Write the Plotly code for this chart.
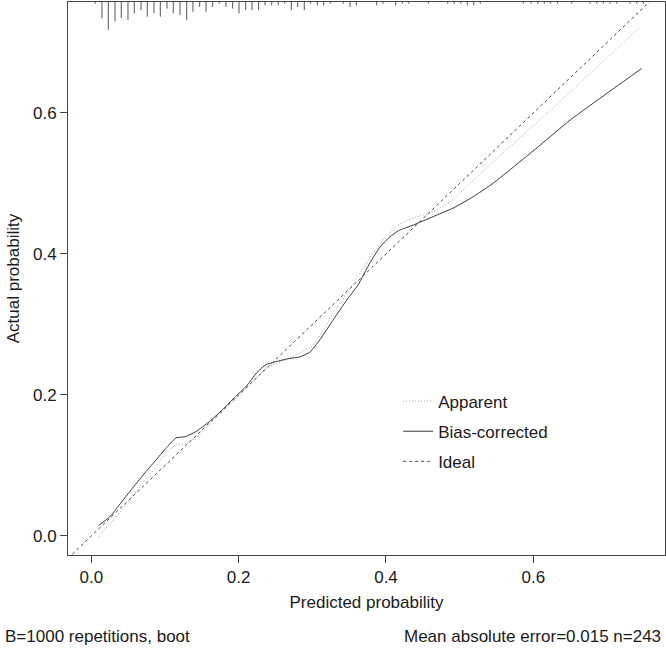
import plotly.graph_objects as go

# ---------------- data ----------------
apparent_x = [0.010, 0.020, 0.034, 0.052, 0.070, 0.088, 0.101, 0.115, 0.128, 0.142, 0.160, 0.180,
              0.200, 0.220, 0.240, 0.260, 0.283, 0.300, 0.314, 0.328, 0.347, 0.362, 0.378, 0.396,
              0.414, 0.437, 0.464, 0.487, 0.510, 0.550, 0.600, 0.650, 0.700, 0.745]
apparent_y = [-0.001, 0.011, 0.027, 0.051, 0.075, 0.098, 0.117, 0.129, 0.131, 0.139, 0.158, 0.178,
              0.198, 0.220, 0.240, 0.248, 0.259, 0.270, 0.290, 0.316, 0.344, 0.368, 0.394, 0.420,
              0.439, 0.451, 0.460, 0.474, 0.496, 0.535, 0.582, 0.630, 0.678, 0.722]

bias_x = [0.010, 0.025, 0.038, 0.056, 0.074, 0.088, 0.101, 0.115, 0.128, 0.142, 0.160, 0.178,
          0.196, 0.210, 0.225, 0.237, 0.250, 0.265, 0.283, 0.297, 0.310, 0.328, 0.347, 0.362,
          0.378, 0.392, 0.405, 0.417, 0.437, 0.464, 0.491, 0.518, 0.545, 0.575, 0.610, 0.650,
          0.700, 0.747]
bias_y = [0.015, 0.027, 0.044, 0.068, 0.091, 0.108, 0.124, 0.139, 0.141, 0.148, 0.162, 0.179,
          0.198, 0.212, 0.232, 0.243, 0.247, 0.251, 0.254, 0.261, 0.278, 0.306, 0.335, 0.356,
          0.387, 0.410, 0.424, 0.433, 0.441, 0.453, 0.465, 0.481, 0.500, 0.525, 0.555, 0.590,
          0.628, 0.663]

# rug (histogram spikes of predicted probabilities): bin centres and counts
rug_x = [0.0054, 0.0145, 0.0231, 0.0322, 0.0407, 0.0498, 0.0584, 0.0675, 0.0760, 0.0851,
         0.0937, 0.1028, 0.1113, 0.1204, 0.1295, 0.1380, 0.1471, 0.1557, 0.1648, 0.1737,
         0.1828, 0.1919, 0.2005, 0.2096, 0.2181, 0.2272, 0.2358, 0.2449, 0.2538, 0.2625,
         0.2715, 0.2802, 0.2891, 0.2978, 0.3068, 0.3155, 0.3244, 0.3421, 0.3512, 0.3597,
         0.3874, 0.3960, 0.4132, 0.4222, 0.4308, 0.4575, 0.4838, 0.4927, 0.5014, 0.5104,
         0.5191, 0.5280, 0.5864, 0.5969, 0.6060, 0.6149, 0.6236, 0.6326, 0.6521, 0.6769,
         0.6860, 0.6950, 0.7041, 0.7132, 0.7312, 0.7403, 0.7493]
rug_count = [1, 10, 17, 12, 10, 11, 7, 5, 9, 7,
             9, 4, 7, 8, 11, 6, 3, 6, 3, 1,
             3, 4, 7, 5, 5, 5, 2, 2, 2, 1,
             5, 3, 5, 1, 2, 2, 1, 1, 3, 2,
             2, 1, 2, 1, 1, 1, 1, 1, 1, 2,
             2, 1, 1, 1, 1, 1, 1, 1, 1, 1,
             1, 1, 1, 1, 1, 1, 1]

x_ticks = [0.0, 0.2, 0.4, 0.6]
y_ticks = [0.0, 0.2, 0.4, 0.6]
x_label = "Predicted probability"
y_label = "Actual probability"
note_left = "B=1000 repetitions, boot"
note_right = "Mean absolute error=0.015 n=243"

# ---------------- layout constants ----------------
X_RANGE = [-0.0316, 0.7787]
Y_RANGE = [-0.0270, 0.7574]
SPIKE_MAX = 0.0393  # longest spike, in y data units
FONT = "Liberation Sans, Arial, Helvetica, sans-serif"
TXT = "#1a1a1a"

fig = go.Figure()

# rug spikes from the top edge
top = Y_RANGE[1]
mx = max(rug_count)
rx, ry = [], []
for xv, c in zip(rug_x, rug_count):
    rx += [xv, xv, None]
    ry += [top, top - SPIKE_MAX * c / mx, None]
fig.add_trace(go.Scatter(x=rx, y=ry, mode="lines", line=dict(color="#555555", width=1),
                         showlegend=False, hoverinfo="skip", cliponaxis=False))

fig.add_trace(go.Scatter(x=apparent_x, y=apparent_y, mode="lines", name="Apparent",
                         legendgroup="a",
                         line=dict(color="#a0a0a0", width=1, dash="1px,2px", shape="spline", smoothing=0.5)))
fig.add_trace(go.Scatter(x=bias_x, y=bias_y, mode="lines", name="Bias-corrected",
                         legendgroup="b",
                         line=dict(color="#3a3a3a", width=1, shape="spline", smoothing=0.5)))
fig.add_trace(go.Scatter(x=[X_RANGE[0], X_RANGE[1]], y=[X_RANGE[0], X_RANGE[1]], mode="lines",
                         name="Ideal", legendgroup="c",
                         line=dict(color="#4a4a4a", width=1, dash="3px,3px")))

axis_common = dict(showgrid=False, zeroline=False, showline=True, mirror=True,
                   linecolor="#444444", linewidth=1, ticks="outside", ticklen=7,
                   tickcolor="#444444", tickwidth=1,
                   tickfont=dict(family=FONT, size=17, color=TXT),
                   title_font=dict(family=FONT, size=17, color=TXT))

fig.update_layout(
    width=666, height=651,
    margin=dict(l=68, r=1, t=2, b=96),
    paper_bgcolor="white", plot_bgcolor="white",
    font=dict(family=FONT, size=17, color=TXT),
    xaxis=dict(range=X_RANGE, tickvals=x_ticks, ticktext=[f"{v:.1f}" for v in x_ticks],
               title=dict(text=x_label, standoff=9), **axis_common),
    yaxis=dict(range=Y_RANGE, tickvals=y_ticks, ticktext=[f"{v:.1f}" for v in y_ticks],
               title=dict(text=y_label, standoff=9), **axis_common),
    legend=dict(x=0.553, y=0.31, xanchor="left", yanchor="top",
                bgcolor="rgba(0,0,0,0)", font=dict(family=FONT, size=17, color=TXT),
                tracegroupgap=5, itemwidth=30),
    annotations=[
        dict(text=note_left, xref="paper", yref="paper", x=-0.109, y=-0.1465,
             xanchor="left", yanchor="middle", showarrow=False,
             font=dict(family=FONT, size=17, color=TXT)),
        dict(text=note_right, xref="paper", yref="paper", x=0.9966, y=-0.1465,
             xanchor="right", yanchor="middle", showarrow=False,
             font=dict(family=FONT, size=17, color=TXT)),
    ],
)

fig.write_html("out.html", config={"displayModeBar": False},
               post_script="document.body.style.margin='0';")
